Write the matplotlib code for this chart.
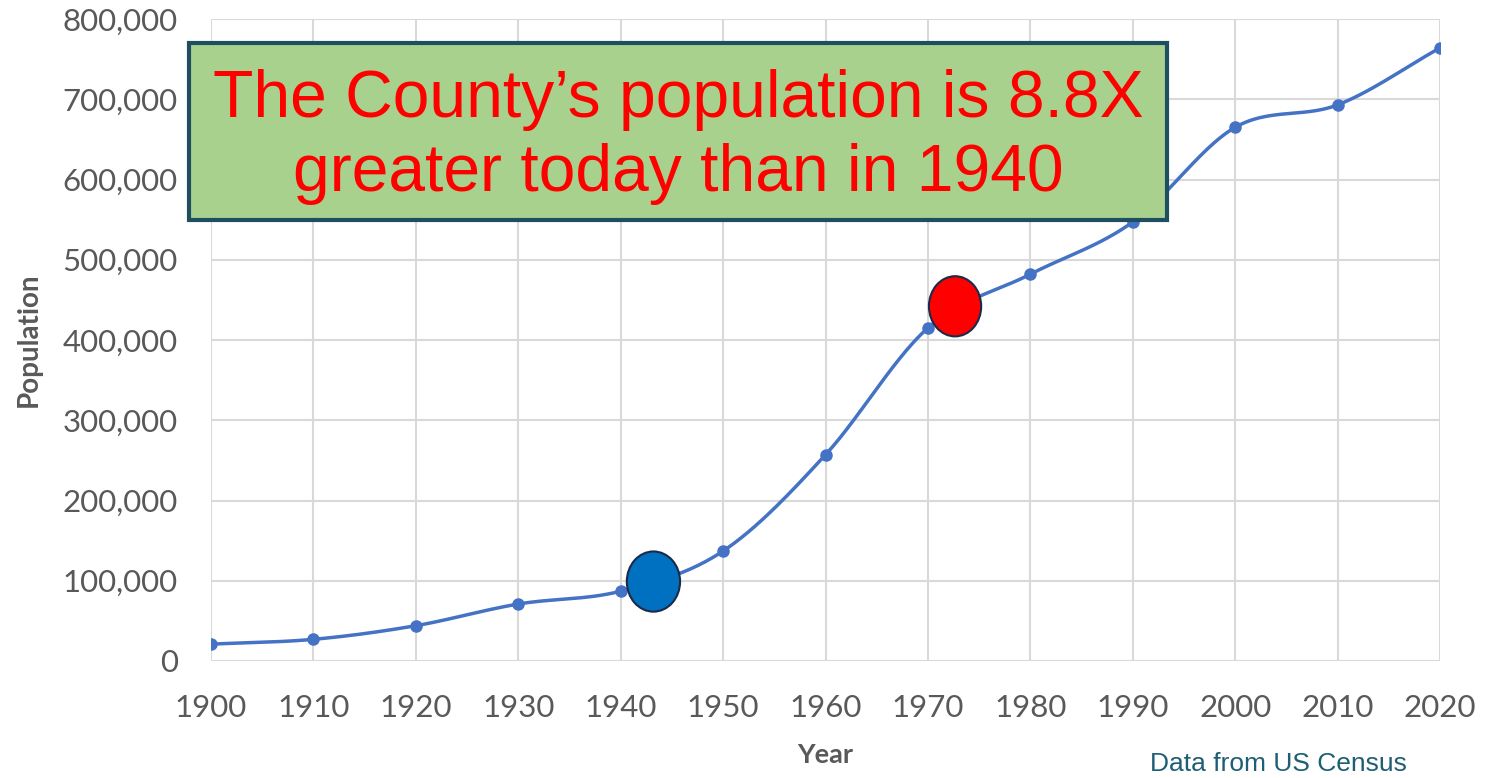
import numpy as np
import matplotlib
matplotlib.use('Agg')
import matplotlib.pyplot as plt
from matplotlib.patches import Ellipse, Rectangle

years = [1900, 1910, 1920, 1930, 1940, 1950, 1960, 1970, 1980, 1990, 2000, 2010, 2020]
population = [21000, 27000, 44000, 71000, 87000, 137000, 257000, 415000, 482000, 547000, 665000, 693000, 764000]

title_text = 'The County\u2019s population is 8.8X\ngreater today than in 1940'
source_text = 'Data from US Census'


def smooth(xs, ys, n=30):
    # catmull-rom style smoothing, like the spreadsheet "smoothed line"
    xs = np.asarray(xs, float)
    ys = np.asarray(ys, float)
    px = np.concatenate([[2 * xs[0] - xs[1]], xs, [2 * xs[-1] - xs[-2]]])
    py = np.concatenate([[2 * ys[0] - ys[1]], ys, [2 * ys[-1] - ys[-2]]])
    out_x, out_y = [], []
    t = np.linspace(0, 1, n)
    for i in range(1, len(px) - 2):
        for arr, out in ((px, out_x), (py, out_y)):
            p0, p1, p2, p3 = arr[i - 1], arr[i], arr[i + 1], arr[i + 2]
            out.extend(0.5 * ((2 * p1) + (-p0 + p2) * t
                              + (2 * p0 - 5 * p1 + 4 * p2 - p3) * t ** 2
                              + (-p0 + 3 * p1 - 3 * p2 + p3) * t ** 3))
    return np.array(out_x), np.array(out_y)


W, H = 1491, 778
fig = plt.figure(figsize=(W / 100, H / 100), dpi=100)
ax = fig.add_axes([211 / W, (H - 661) / H, (1440 - 211) / W, (661 - 19) / H])

sx, sy = smooth(years, population)
ax.plot(sx, sy, color='#4472C4', lw=2.5, zorder=3)
ax.plot(years, population, 'o', color='#4472C4', ms=8, zorder=4)

ax.set_xlim(1900, 2020)
ax.set_ylim(0, 800000)
ax.set_xticks(years)
ax.set_yticks(np.arange(0, 800001, 100000))
ax.yaxis.set_major_formatter(matplotlib.ticker.FuncFormatter(lambda v, p: f'{int(v):,}'))
ax.grid(True, color='#d9d9d9', lw=1.5)
ax.set_axisbelow(True)
for s in ax.spines.values():
    s.set_visible(False)
ax.tick_params(length=0, labelsize=22.5, labelcolor='#595959', labelfontfamily='Lato')
ax.tick_params(axis='y', pad=24)
ax.tick_params(axis='x', pad=24)
ax.set_xlabel('Year', fontsize=19.5, fontweight='bold', color='#595959', labelpad=15, family='Lato')
ax.set_ylabel('Population', fontsize=20, fontweight='bold', color='#595959', labelpad=15, family='Lato')

# markers drawn on top
ax.add_patch(Ellipse((1943.2, 99000), 5.2, 75000, facecolor='#0070C0', edgecolor='#1a2a48',
                     lw=1.5, zorder=6, clip_on=False))
ax.add_patch(Ellipse((1972.65, 442000), 5.1, 75000, facecolor='#FF0000', edgecolor='#1a2a48',
                     lw=1.5, zorder=6, clip_on=False))

# callout box
fig.add_artist(Rectangle((189 / W, (H - 220) / H), (1167 - 189) / W, (220 - 43) / H,
                         transform=fig.transFigure, facecolor='#A9D18E', edgecolor='#1F4E60',
                         lw=3, zorder=10))
fig.text(678 / W, (H - 137) / H, title_text, ha='center', va='center', fontsize=47.5,
         color='#FF0000', family='Liberation Sans', linespacing=1.26, zorder=11)

fig.text(1278 / W, (H - 764) / H, source_text, ha='center', va='center', fontsize=19,
         color='#1F5F73', family='Liberation Sans')

fig.savefig('out.png', dpi=100)
